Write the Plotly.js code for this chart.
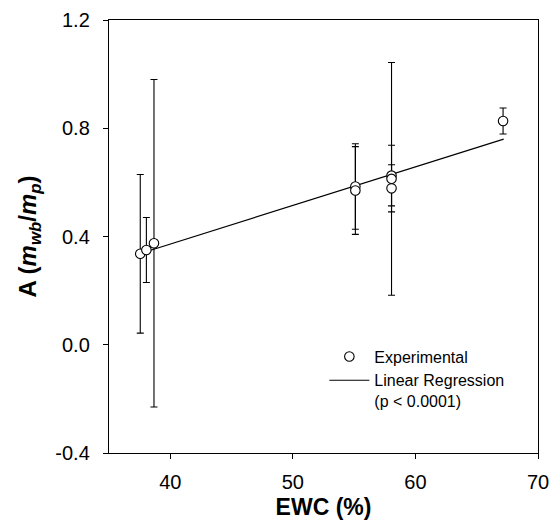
<!DOCTYPE html>
<html>
<head>
<meta charset="utf-8">
<script src="https://cdn.plot.ly/plotly-3.0.1.min.js"></script>
<style>html,body{margin:0;padding:0;background:#fff;}#chart{width:555px;height:531px;}</style>
</head>
<body>
<div id="chart"></div>
<script>
// Experimental points
var ewc = [37.55, 38.05, 38.67, 55.1, 55.1, 58.05, 58.05, 58.05, 67.15];
var absorb = [0.336, 0.350, 0.375, 0.585, 0.570, 0.625, 0.613, 0.578, 0.827];
var absorbErr = [0.293, 0.120, 0.605, 0.158, 0.162, 0.112, 0.430, 0.087, 0.048];
// Linear regression line end points
var regX = [38.4, 67.2];
var regY = [0.349, 0.760];
// Tick values
var xTicks = [40, 50, 60, 70];
var yTicks = [-0.4, 0.0, 0.4, 0.8, 1.2];
var yTickText = ['-0.4', '0.0', '0.4', '0.8', '1.2'];

var font = 'Arial, "Liberation Sans", sans-serif';

var traces = [
  {
    x: regX, y: regY, type: 'scatter', mode: 'lines',
    name: 'Linear Regression<br>(p < 0.0001)',
    line: {color: '#000', width: 1.2},
    legendrank: 2
  },
  {
    x: ewc, y: absorb, type: 'scatter', mode: 'markers',
    name: 'Experimental',
    marker: {symbol: 'circle', size: 9.5, color: '#fff', line: {color: '#000', width: 1.1}},
    error_y: {type: 'data', array: absorbErr, visible: true, color: '#000', thickness: 1.1, width: 3.5},
    legendrank: 1
  }
];

var layout = {
  width: 555, height: 531,
  margin: {l: 109, r: 17, t: 20, b: 78},
  paper_bgcolor: '#fff', plot_bgcolor: '#fff',
  font: {family: font, color: '#000'},
  showlegend: true,
  legend: {
    x: 0.502, y: 0.262, xanchor: 'left', yanchor: 'top',
    bgcolor: 'rgba(0,0,0,0)', borderwidth: 0,
    font: {family: font, size: 16, color: '#000'},
    valign: 'top', tracegroupgap: 0, itemwidth: 40
  },
  xaxis: {
    range: [35, 70], tickvals: xTicks, ticktext: xTicks.map(String),
    showgrid: false, zeroline: false, showline: true, linecolor: '#000', linewidth: 1.2,
    mirror: true, ticks: 'outside', ticklen: 5, tickcolor: '#000', tickwidth: 1,
    tickfont: {family: font, size: 20, color: '#000'}, ticklabelstandoff: 6,
    title: {text: '<b>EWC (%)</b>', font: {family: font, size: 23, color: '#000'}, standoff: 6}
  },
  yaxis: {
    range: [-0.4, 1.2], tickvals: yTicks, ticktext: yTickText,
    showgrid: false, zeroline: false, showline: true, linecolor: '#000', linewidth: 1.2,
    mirror: true, ticks: 'outside', ticklen: 5, tickcolor: '#000', tickwidth: 1,
    tickfont: {family: font, size: 20, color: '#000'}, ticklabelstandoff: 9,
    title: {text: '<b>A (<i>m</i><sub><i>wb</i></sub>/<i>m</i><sub><i>p</i></sub>)</b>', font: {family: font, size: 24, color: '#000'}, standoff: 12}
  }
};

Plotly.newPlot('chart', traces, layout, {displayModeBar: false, staticPlot: true});
</script>
</body>
</html>
